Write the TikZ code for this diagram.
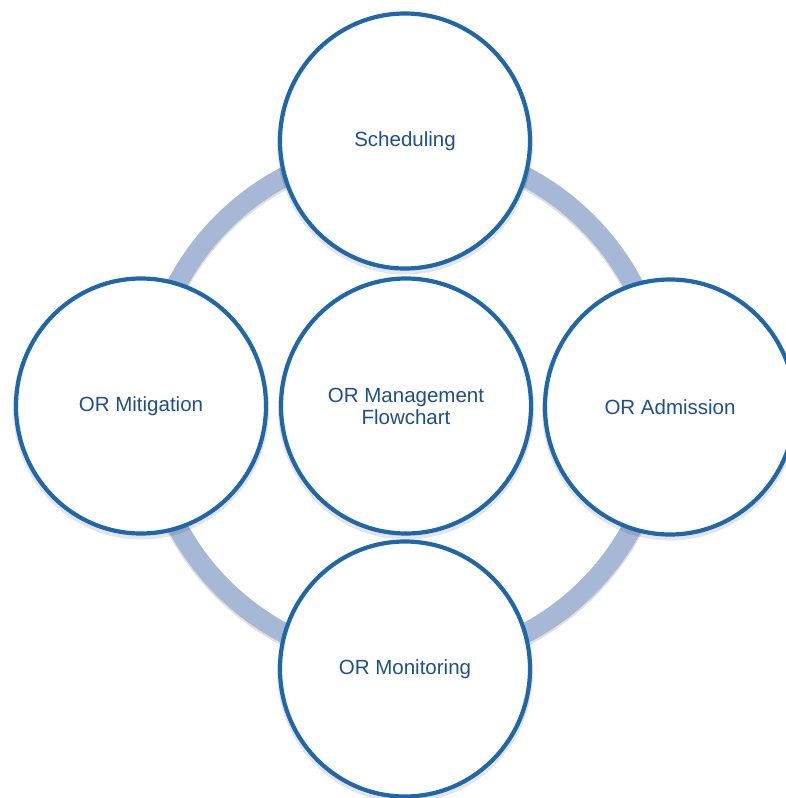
\documentclass[tikz,border=0pt]{standalone}
\usepackage{fontspec}
\setmainfont{Liberation Sans}
\usetikzlibrary{shapes.geometric,calc}
\definecolor{ringblue}{HTML}{A7B7D6}
\definecolor{edgeblue}{HTML}{1F67A8}
\definecolor{textblue}{HTML}{1F4F8A}
\tikzset{
  bubble/.style={ellipse, draw=edgeblue, line width=4.2pt, fill=white,
    minimum width=250pt, minimum height=255pt, inner sep=0pt,
    text=textblue, align=center,
    font=\fontsize{20.5}{22}\selectfont},
  bubbleshadow/.style={ellipse, fill=black, opacity=0.10,
    minimum width=256pt, minimum height=261pt, inner sep=0pt},
  ring/.style={draw=ringblue, line width=20pt},
  ringshadow/.style={draw=black, opacity=0.12, line width=21pt}
}
\begin{document}
\begin{tikzpicture}[x=1pt,y=-1pt]
  \useasboundingbox (0,0) rectangle (786,798);
  \fill[white] (0,0) rectangle (786,798);
  \coordinate (hub) at (405,405);
  % cycle ring behind the bubbles
  \draw[ringshadow] ($(hub)+(0,2)$) circle[radius=258];
  \draw[ring] (hub) circle[radius=258];
  % soft shadows under the bubbles
  \foreach \p in {(405,144),(406,409),(141,409),(670,410),(405,672)}
    \node[bubbleshadow] at \p {};
  % bubbles
  \node[bubble] (sched) at (405,141) {Scheduling};
  \node[bubble] (mitig) at (141,406) {OR Mitigation};
  \node[bubble] (admit) at (670,407) {OR Admission};
  \node[bubble] (monit) at (405,669) {OR Monitoring};
  \node[bubble] (core)  at (406,406) {OR Management\\Flowchart};
\end{tikzpicture}
\end{document}
